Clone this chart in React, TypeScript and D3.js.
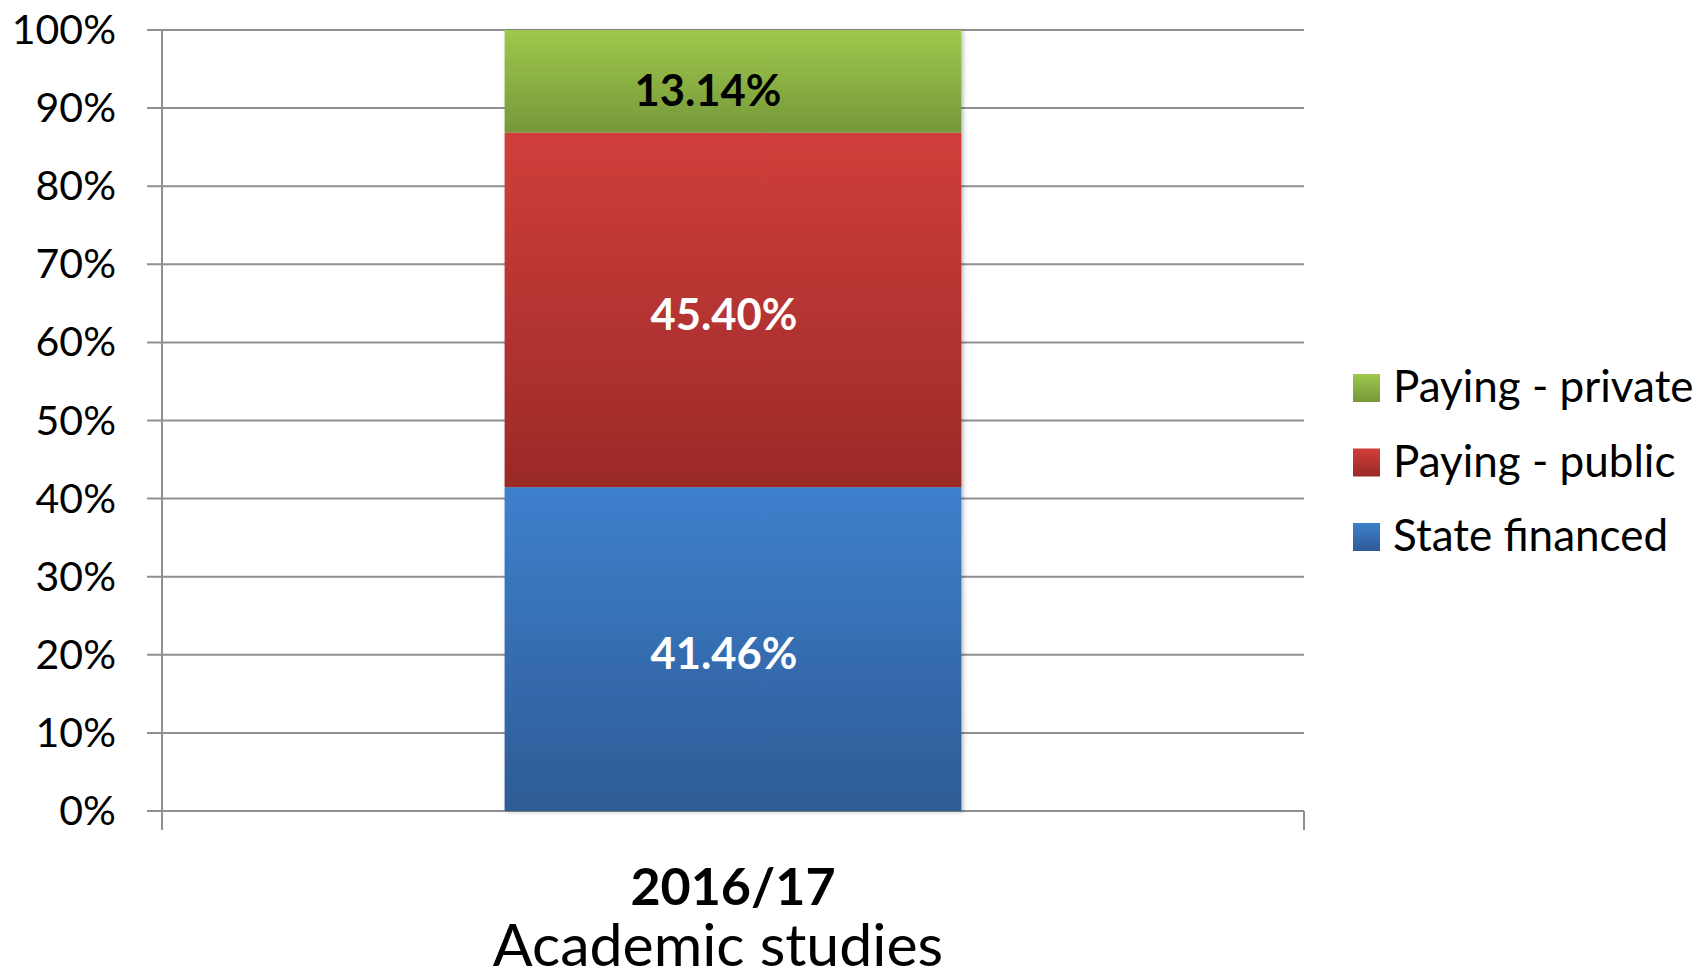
import { useEffect, useRef } from 'react';
import * as d3 from 'd3';

const categories = ['2016/17'];
const categorySub = ['Academic studies'];
const seriesNames = ['State financed', 'Paying - public', 'Paying - private'];
const stateFinanced = [0.4146];
const payingPublic = [0.454];
const payingPrivate = [0.1314];
const yTicks = [0, 0.1, 0.2, 0.3, 0.4, 0.5, 0.6, 0.7, 0.8, 0.9, 1];

const gradients = [
  { id: 'gBlue', top: '#3e80cd', bottom: '#2d5b95' },
  { id: 'gRed', top: '#d03e3b', bottom: '#9a2a27' },
  { id: 'gGreen', top: '#9ec84c', bottom: '#76983a' },
];
const labelColors = ['#ffffff', '#ffffff', '#000000'];

const App = () => {
  const ref = useRef<SVGSVGElement>(null);

  useEffect(() => {
    const width = 1698;
    const height = 973;
    const left = 162;
    const right = 1304;
    const top = 30;
    const bottom = 811;
    const font = 'Lato, sans-serif';

    const svg = d3.select(ref.current);
    svg.selectAll('*').remove();
    svg.attr('width', width).attr('height', height);

    const defs = svg.append('defs');
    gradients.forEach(g => {
      const lg = defs.append('linearGradient')
        .attr('id', g.id)
        .attr('x1', 0).attr('y1', 0).attr('x2', 0).attr('y2', 1);
      lg.append('stop').attr('offset', '0%').attr('stop-color', g.top);
      lg.append('stop').attr('offset', '100%').attr('stop-color', g.bottom);
    });
    const f = defs.append('filter').attr('id', 'shadow')
      .attr('x', '-5%').attr('y', '-5%').attr('width', '110%').attr('height', '110%');
    f.append('feDropShadow')
      .attr('dx', 2).attr('dy', 1).attr('stdDeviation', 2)
      .attr('flood-color', '#000').attr('flood-opacity', 0.25);

    const yScale = d3.scaleLinear().domain([0, 1]).range([bottom, top]);
    const xScale = d3.scaleBand()
      .domain(categories)
      .range([left, right])
      .paddingInner(0)
      .paddingOuter(0.75);

    // gridlines + tick labels
    svg.append('g')
      .selectAll('line')
      .data(yTicks)
      .join('line')
      .attr('x1', left - 15)
      .attr('x2', right)
      .attr('y1', d => yScale(d))
      .attr('y2', d => yScale(d))
      .attr('stroke', '#8f8f8f')
      .attr('stroke-width', 2);

    svg.append('g')
      .selectAll('text')
      .data(yTicks)
      .join('text')
      .attr('x', 116)
      .attr('y', d => yScale(d) + 14)
      .attr('text-anchor', 'end')
      .attr('font-family', font)
      .attr('font-size', 41)
      .attr('fill', '#000')
      .text(d => d3.format('.0%')(d));

    // axes lines
    svg.append('line')
      .attr('x1', left).attr('x2', left)
      .attr('y1', top).attr('y2', bottom + 19)
      .attr('stroke', '#8f8f8f').attr('stroke-width', 2);
    svg.append('line')
      .attr('x1', right).attr('x2', right)
      .attr('y1', bottom).attr('y2', bottom + 19)
      .attr('stroke', '#8f8f8f').attr('stroke-width', 2);

    // stacked bars
    const rows = categories.map((c, i) => ({
      cat: c,
      s0: stateFinanced[i],
      s1: payingPublic[i],
      s2: payingPrivate[i],
    }));
    const stack = d3.stack<any>().keys(['s0', 's1', 's2']);
    const stacked = stack(rows);

    const barG = svg.append('g').attr('filter', 'url(#shadow)');
    stacked.forEach((layer, li) => {
      barG.selectAll(null)
        .data(layer)
        .join('rect')
        .attr('x', d => xScale(d.data.cat)!)
        .attr('width', xScale.bandwidth())
        .attr('y', d => yScale(d[1]))
        .attr('height', d => yScale(d[0]) - yScale(d[1]))
        .attr('fill', `url(#${gradients[li].id})`);
    });

    stacked.forEach((layer, li) => {
      svg.selectAll(null)
        .data(layer)
        .join('text')
        .attr('x', d => xScale(d.data.cat)! + xScale.bandwidth() / 2 + (li === 2 ? -25 : -9))
        .attr('y', d => (yScale(d[0]) + yScale(d[1])) / 2 + (li === 2 ? 25 : 20))
        .attr('text-anchor', 'middle')
        .attr('font-family', font)
        .attr('font-weight', 'bold')
        .attr('font-size', 43.5)
        .attr('fill', labelColors[li])
        .text(d => d3.format('.2%')(d[1] - d[0]));
    });

    // category labels
    categories.forEach((c, i) => {
      const cx = xScale(c)! + xScale.bandwidth() / 2;
      svg.append('text')
        .attr('x', cx)
        .attr('y', 905)
        .attr('text-anchor', 'middle')
        .attr('font-family', font)
        .attr('font-weight', 'bold')
        .attr('font-size', 52)
        .text(c);
      svg.append('text')
        .attr('x', cx - 15)
        .attr('y', 966)
        .attr('text-anchor', 'middle')
        .attr('font-family', font)
        .attr('font-size', 59)
        .text(categorySub[i]);
    });

    // legend (reverse order)
    const legendOrder = [2, 1, 0];
    const legend = svg.append('g');
    legendOrder.forEach((si, k) => {
      const y0 = 374 + k * 74.5;
      legend.append('rect')
        .attr('x', 1353).attr('y', y0)
        .attr('width', 27).attr('height', 28)
        .attr('fill', `url(#${gradients[si].id})`);
      legend.append('text')
        .attr('x', 1393)
        .attr('y', y0 + 28)
        .attr('font-family', font)
        .attr('font-size', 44)
        .attr('fill', '#000')
        .text(seriesNames[si]);
    });
  }, []);

  return (
    <svg ref={ref} style={{ position: 'absolute', left: 0, top: 0, display: 'block' }} />
  );
};

export default App;
